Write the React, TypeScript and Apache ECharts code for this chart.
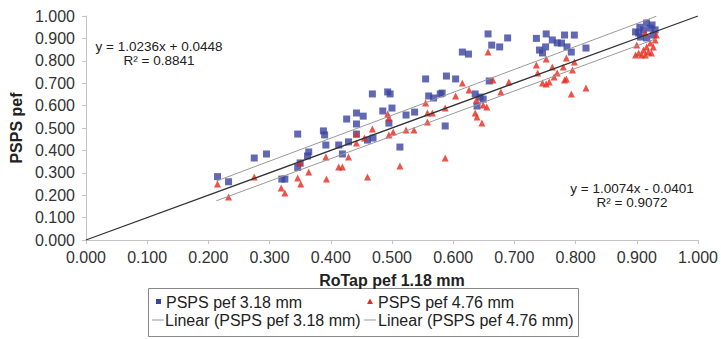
import React, { useEffect, useRef } from "react";
import * as echarts from "echarts";

const tickValues = [0, 0.1, 0.2, 0.3, 0.4, 0.5, 0.6, 0.7, 0.8, 0.9, 1.0];

const blue318: number[][] = [
  [0.215, 0.283], [0.233, 0.26], [0.275, 0.366], [0.295, 0.384], [0.346, 0.473], [0.32, 0.272], [0.325, 0.272],
  [0.364, 0.393], [0.362, 0.375], [0.35, 0.344], [0.346, 0.324], [0.388, 0.487], [0.39, 0.469], [0.392, 0.424],
  [0.555, 0.719], [0.589, 0.732], [0.468, 0.652], [0.493, 0.661], [0.497, 0.652], [0.56, 0.643], [0.568, 0.634],
  [0.579, 0.652], [0.442, 0.567], [0.453, 0.553], [0.426, 0.54], [0.485, 0.576], [0.5, 0.589], [0.523, 0.558],
  [0.537, 0.571], [0.442, 0.518], [0.495, 0.522], [0.587, 0.509], [0.442, 0.473], [0.46, 0.446], [0.469, 0.455],
  [0.413, 0.424], [0.429, 0.438], [0.513, 0.415], [0.419, 0.384],
  [0.657, 0.92], [0.663, 0.87], [0.676, 0.862], [0.689, 0.902], [0.615, 0.839], [0.625, 0.83], [0.604, 0.719],
  [0.582, 0.656], [0.636, 0.652], [0.644, 0.638], [0.649, 0.629], [0.639, 0.598], [0.659, 0.71],
  [0.736, 0.9], [0.752, 0.92], [0.762, 0.893], [0.77, 0.88], [0.741, 0.848], [0.751, 0.862], [0.746, 0.835],
  [0.782, 0.915], [0.786, 0.862], [0.798, 0.915], [0.777, 0.879], [0.793, 0.839], [0.817, 0.857],
  [0.903, 0.924], [0.916, 0.969], [0.922, 0.946], [0.93, 0.938], [0.911, 0.938], [0.898, 0.929], [0.927, 0.915],
  [0.906, 0.906], [0.916, 0.902], [0.905, 0.95], [0.925, 0.96],
];

const red476: number[][] = [
  [0.215, 0.25], [0.233, 0.192], [0.275, 0.281], [0.319, 0.232], [0.325, 0.21], [0.346, 0.277], [0.351, 0.25],
  [0.364, 0.304], [0.35, 0.344], [0.393, 0.272], [0.392, 0.371],
  [0.413, 0.326], [0.419, 0.326], [0.429, 0.371], [0.46, 0.281], [0.442, 0.433], [0.442, 0.473], [0.455, 0.455],
  [0.468, 0.496], [0.493, 0.563], [0.495, 0.545], [0.495, 0.469], [0.502, 0.482], [0.523, 0.491], [0.536, 0.491],
  [0.513, 0.33], [0.555, 0.612], [0.558, 0.567], [0.566, 0.567], [0.558, 0.527], [0.587, 0.589], [0.587, 0.366],
  [0.657, 0.839], [0.615, 0.701], [0.626, 0.67], [0.604, 0.643], [0.665, 0.714], [0.691, 0.705], [0.678, 0.661],
  [0.638, 0.625], [0.649, 0.603], [0.655, 0.594], [0.636, 0.567], [0.639, 0.549], [0.647, 0.522],
  [0.736, 0.781], [0.752, 0.808], [0.738, 0.746], [0.762, 0.772], [0.77, 0.746], [0.78, 0.772], [0.785, 0.812],
  [0.746, 0.701], [0.752, 0.696], [0.757, 0.705], [0.765, 0.728], [0.782, 0.714], [0.798, 0.795], [0.795, 0.759],
  [0.785, 0.719], [0.793, 0.652], [0.817, 0.679],
  [0.9, 0.871], [0.903, 0.835], [0.911, 0.848], [0.916, 0.862], [0.922, 0.879], [0.93, 0.893], [0.927, 0.862],
  [0.914, 0.826], [0.908, 0.826], [0.919, 0.839], [0.932, 0.915], [0.898, 0.826], [0.914, 0.924], [0.924, 0.835],
];

const trend318: number[][] = [[0.213, 0.263], [0.932, 0.999]];
const trend476: number[][] = [[0.213, 0.175], [0.932, 0.899]];
const identityLine: number[][] = [[0, 0], [1, 1]];

const eq318 = ["y = 1.0236x + 0.0448", "R² = 0.8841"];
const eq476 = ["y = 1.0074x - 0.0401", "R² = 0.9072"];
const legendNames = ["PSPS pef 3.18 mm", "PSPS pef 4.76 mm", "Linear (PSPS pef 3.18 mm)", "Linear (PSPS pef 4.76 mm)"];

const BLUE = "#3b44a0";
const RED = "#e8281c";
const FONT = "Liberation Sans, Arial, sans-serif";

export default function App() {
  const ref = useRef<HTMLDivElement>(null);
  useEffect(() => {
    if (!ref.current) return;
    const chart = echarts.init(ref.current, undefined, { renderer: "svg" });
    const axisCommon = {
      type: "value" as const,
      min: tickValues[0],
      max: tickValues[tickValues.length - 1],
      interval: 0.1,
      axisLine: { show: true, lineStyle: { color: "#c4c4c4", width: 1 } },
      axisTick: { show: true, length: 4, lineStyle: { color: "#c4c4c4" } },
      splitLine: { show: false },
      axisLabel: {
        color: "#333",
        fontSize: 16,
        fontFamily: FONT,
        formatter: (v: number) => v.toFixed(3),
      },
      nameLocation: "middle" as const,
      nameTextStyle: { fontWeight: "bold" as const, fontSize: 16, color: "#222", fontFamily: FONT },
    };
    const eqText = (x: number, y: number, t: string) => ({
      type: "text",
      x,
      y,
      style: { text: t, fill: "#222", font: `13.5px ${FONT}`, textAlign: "center", textVerticalAlign: "middle" },
    });
    chart.setOption({
      animation: false,
      grid: { left: 82, right: 21, top: 16, bottom: 99 },
      xAxis: {
        ...axisCommon,
        name: "RoTap pef 1.18 mm",
        nameGap: 32,
        axisLabel: { ...axisCommon.axisLabel, margin: 9 },
      },
      yAxis: {
        ...axisCommon,
        name: "PSPS pef",
        nameGap: 59,
        axisLabel: { ...axisCommon.axisLabel, margin: 11 },
      },
      series: [
        {
          name: legendNames[0],
          type: "scatter",
          data: blue318,
          symbol: "rect",
          symbolSize: 7,
          itemStyle: { color: BLUE },
          z: 3,
        },
        {
          name: legendNames[1],
          type: "scatter",
          data: red476,
          symbol: "triangle",
          symbolSize: 7,
          itemStyle: { color: RED },
          z: 3,
        },
        {
          type: "line",
          data: identityLine,
          showSymbol: false,
          lineStyle: { color: "#333", width: 1.3 },
          z: 4,
        },
        {
          name: legendNames[2],
          type: "line",
          data: trend318,
          showSymbol: false,
          lineStyle: { color: "#999", width: 1 },
          z: 4,
        },
        {
          name: legendNames[3],
          type: "line",
          data: trend476,
          showSymbol: false,
          lineStyle: { color: "#999", width: 1 },
          z: 4,
        },
      ],
      graphic: [
        eqText(159, 46, eq318[0]),
        eqText(159, 60, eq318[1]),
        eqText(632, 188, eq476[0]),
        eqText(632, 202, eq476[1]),
        {
          type: "rect",
          shape: { x: 148.5, y: 288.5, width: 430, height: 48 },
          style: { fill: "#fff", stroke: "#888", lineWidth: 1 },
        },
        { type: "rect", shape: { x: 156, y: 299, width: 5, height: 5 }, style: { fill: BLUE } },
        {
          type: "polygon",
          shape: { points: [[370, 298.5], [367, 304], [373, 304]] },
          style: { fill: RED },
        },
        { type: "line", shape: { x1: 152, y1: 320, x2: 164, y2: 320 }, style: { stroke: "#999", lineWidth: 1 } },
        { type: "line", shape: { x1: 364, y1: 320, x2: 376, y2: 320 }, style: { stroke: "#999", lineWidth: 1 } },
        ...[
          [166, 302, legendNames[0]],
          [378, 302, legendNames[1]],
          [165, 320, legendNames[2]],
          [378, 320, legendNames[3]],
        ].map(([x, y, t]) => ({
          type: "text",
          x: x as number,
          y: y as number,
          style: { text: t as string, fill: "#222", font: `16px ${FONT}`, textAlign: "left", textVerticalAlign: "middle" },
        })),
      ],
    });
    return () => chart.dispose();
  }, []);
  return <div ref={ref} style={{ width: 721, height: 339, position: "absolute", left: 0, top: 0 }} />;
}
